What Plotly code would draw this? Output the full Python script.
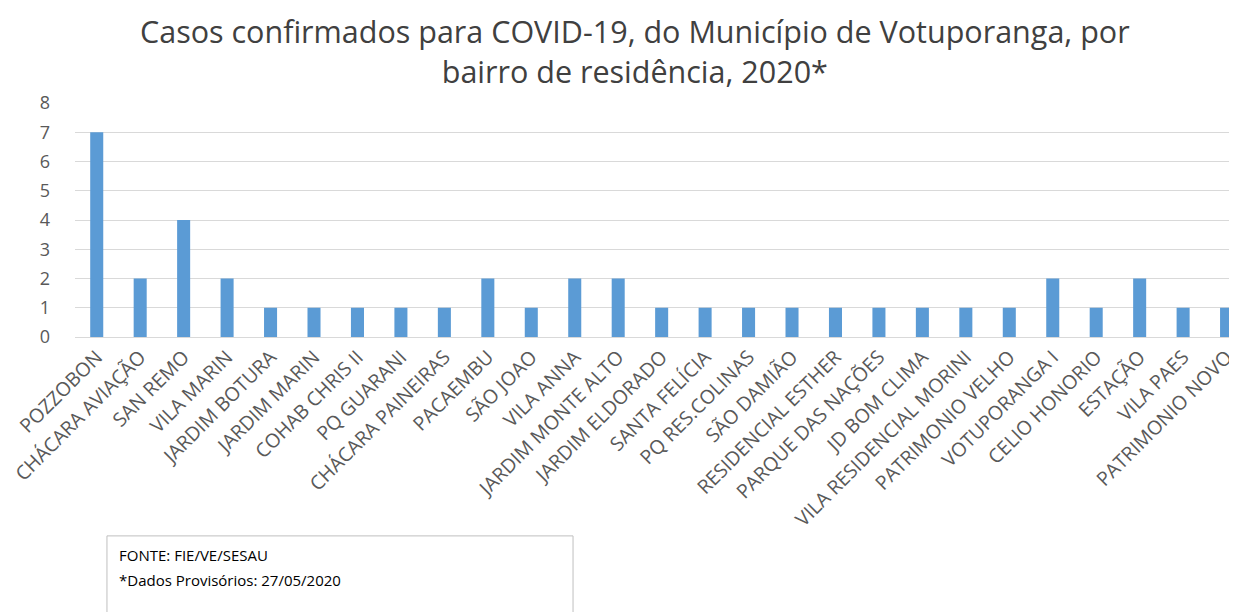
import plotly.graph_objects as go

bairros = [
    "POZZOBON", "CHÁCARA AVIAÇÃO", "SAN REMO", "VILA MARIN", "JARDIM BOTURA",
    "JARDIM MARIN", "COHAB CHRIS II", "PQ GUARANI", "CHÁCARA PAINEIRAS", "PACAEMBU",
    "SÃO JOAO", "VILA ANNA", "JARDIM MONTE ALTO", "JARDIM ELDORADO", "SANTA FELÍCIA",
    "PQ RES.COLINAS", "SÃO DAMIÃO", "RESIDENCIAL ESTHER", "PARQUE DAS NAÇÕES", "JD BOM CLIMA",
    "VILA RESIDENCIAL MORINI", "PATRIMONIO VELHO", "VOTUPORANGA I", "CELIO HONORIO", "ESTAÇÃO",
    "VILA PAES", "PATRIMONIO NOVO",
]
casos = [7, 2, 4, 2, 1, 1, 1, 1, 1, 2, 1, 2, 2, 1, 1, 1, 1, 1, 1, 1, 1, 1, 2, 1, 2, 1, 1]
y_ticks = [0, 1, 2, 3, 4, 5, 6, 7, 8]

title_text = "Casos confirmados para COVID-19, do Município de Votuporanga, por<br>bairro de residência, 2020*"
nota1 = "FONTE: FIE/VE/SESAU"
nota2 = "*Dados Provisórios: 27/05/2020"

fig = go.Figure()
fig.add_trace(go.Bar(
    x=list(range(len(bairros))), y=casos,
    marker=dict(color="#5B9BD5", line=dict(width=0)),
    width=0.3,
))

fig.update_layout(
    width=1237, height=612,
    margin=dict(l=67, r=8, t=95, b=283, autoexpand=False),
    paper_bgcolor="white", plot_bgcolor="white",
    showlegend=False,
    font=dict(family="Open Sans, sans-serif", color="#595959"),
    xaxis=dict(
        tickmode="array", tickvals=list(range(len(bairros))), ticktext=bairros,
        tickangle=-45, tickfont=dict(size=19.5, color="#595959"),
        range=[-0.5, 26.24], showgrid=False, zeroline=False,
        showline=True, linecolor="#D9D9D9", linewidth=1, ticks="",
        automargin=False, ticklabeloverflow="allow",
    ),
    yaxis=dict(
        range=[0, 8], tickmode="array", tickvals=y_ticks,
        tickfont=dict(size=18, color="#595959"),
        showgrid=True, gridcolor="#D9D9D9", gridwidth=1, zeroline=False,
        ticks="", ticklabelstandoff=24, automargin=False,
    ),
    shapes=[dict(type="rect", xref="paper", yref="paper",
                 x0=0.0275, x1=0.4286, y0=-0.850, y1=-1.30,
                 line=dict(color="#BFBFBF", width=1), fillcolor="white")],
    annotations=[
        dict(text=title_text, xref="paper", yref="paper", x=0.482, y=1.222,
             xanchor="center", yanchor="middle", showarrow=False,
             font=dict(size=30.5, color="#404040")),
        dict(text=nota1, xref="paper", yref="paper", x=0.036, y=-0.932,
             xanchor="left", yanchor="middle", showarrow=False,
             font=dict(size=15, color="#000000")),
        dict(text=nota2, xref="paper", yref="paper", x=0.036, y=-1.038,
             xanchor="left", yanchor="middle", showarrow=False,
             font=dict(size=15, color="#000000")),
    ],
)

fig.write_html("out.html")
